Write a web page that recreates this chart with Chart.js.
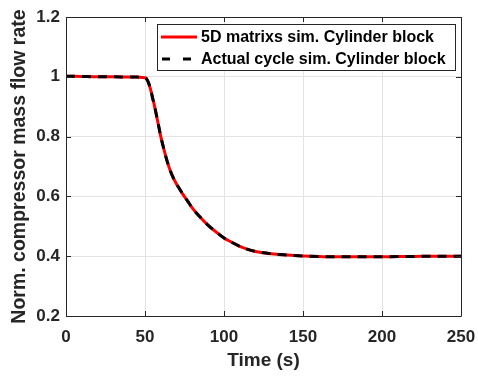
<!DOCTYPE html>
<html>
<head>
<meta charset="utf-8">
<script src="https://cdn.jsdelivr.net/npm/chart.js@4/dist/chart.umd.min.js"></script>
<style>
  html, body { margin: 0; padding: 0; background: #fff; }
  #wrap { width: 478px; height: 376px; }
</style>
</head>
<body>
<div id="wrap"><canvas id="chart" width="478" height="376"></canvas></div>
<script>
// time axis (s)
const timeS = [0, 10, 20, 30, 40, 45, 48, 50, 51, 52, 53, 54, 55, 56, 57, 58, 59, 60,
  62, 64, 66, 68, 70, 72, 74, 77, 80, 85, 90, 95, 100, 104, 110, 115, 120, 130,
  140, 150, 160, 170, 180, 190, 200, 210, 220, 230, 240, 250];

// 5D matrixs sim. - normalised compressor mass flow
const matrixSim = [1.002, 1.001, 1.0, 1.0, 0.999, 0.999, 0.998, 0.997, 0.993, 0.983, 0.968, 0.948,
  0.925, 0.903, 0.878, 0.852, 0.826, 0.800, 0.757, 0.718, 0.686, 0.661, 0.641, 0.624, 0.607,
  0.584, 0.561, 0.530, 0.503, 0.481, 0.461, 0.449, 0.433, 0.423, 0.416, 0.408, 0.404, 0.401,
  0.399, 0.398, 0.398, 0.398, 0.398, 0.399, 0.399, 0.400, 0.400, 0.400];

// Actual cycle sim. - practically on top of the matrix one
const actualSim = [1.002, 1.001, 1.0, 1.0, 0.999, 0.999, 0.998, 0.997, 0.993, 0.983, 0.968, 0.948,
  0.925, 0.903, 0.878, 0.852, 0.826, 0.800, 0.757, 0.718, 0.686, 0.661, 0.641, 0.624, 0.607,
  0.584, 0.561, 0.530, 0.503, 0.481, 0.461, 0.449, 0.433, 0.423, 0.416, 0.408, 0.404, 0.401,
  0.399, 0.398, 0.398, 0.398, 0.398, 0.399, 0.399, 0.400, 0.400, 0.400];

const xTicks = [0, 50, 100, 150, 200, 250];
const yTicks = [0.2, 0.4, 0.6, 0.8, 1.0, 1.2];
const yTickLabels = ["0.2", "0.4", "0.6", "0.8", "1", "1.2"];

const seriesNames = ["5D matrixs sim. Cylinder block", "Actual cycle sim. Cylinder block"];

const FONT = "'Liberation Sans', Arial, sans-serif";
const INK = "#262626";

// box, inward ticks and the framed legend (MATLAB look)
const matlabFrame = {
  id: "matlabFrame",
  afterDraw(chart) {
    const ctx = chart.ctx;
    const a = chart.chartArea;
    const xs = chart.scales.x, ys = chart.scales.y;
    ctx.save();
    ctx.strokeStyle = INK;
    ctx.lineWidth = 1;
    ctx.beginPath();
    ctx.rect(Math.round(a.left) + 0.5, Math.round(a.top) + 0.5,
      Math.round(a.right - a.left), Math.round(a.bottom - a.top));
    ctx.stroke();
    ctx.beginPath();
    xTicks.forEach(v => {
      const px = Math.round(xs.getPixelForValue(v)) + 0.5;
      ctx.moveTo(px, a.bottom); ctx.lineTo(px, a.bottom - 5);
      ctx.moveTo(px, a.top); ctx.lineTo(px, a.top + 5);
    });
    yTicks.forEach(v => {
      const py = Math.round(ys.getPixelForValue(v)) + 0.5;
      ctx.moveTo(a.left, py); ctx.lineTo(a.left + 5, py);
      ctx.moveTo(a.right, py); ctx.lineTo(a.right - 5, py);
    });
    ctx.stroke();

    // legend
    const lx = 157, ly = 24, lw = 298, lh = 46;
    ctx.fillStyle = "#fff";
    ctx.fillRect(lx, ly, lw, lh);
    ctx.strokeStyle = INK;
    ctx.strokeRect(lx + 0.5, ly + 0.5, lw, lh);
    ctx.font = "bold 16px " + FONT;
    ctx.fillStyle = "#000";
    ctx.textBaseline = "middle";
    const rows = [ly + 13, ly + 35];
    ctx.lineWidth = 3;
    ctx.strokeStyle = "#ff0000";
    ctx.setLineDash([]);
    ctx.beginPath(); ctx.moveTo(161, rows[0]); ctx.lineTo(197, rows[0]); ctx.stroke();
    ctx.strokeStyle = "#000";
    ctx.setLineDash([8, 13]);
    ctx.beginPath(); ctx.moveTo(162, rows[1]); ctx.lineTo(197, rows[1]); ctx.stroke();
    ctx.setLineDash([]);
    ctx.fillText(seriesNames[0], 201, rows[0] + 1);
    ctx.fillText(seriesNames[1], 201, rows[1] + 1);
    ctx.restore();
  }
};

const ctx = document.getElementById("chart").getContext("2d");
new Chart(ctx, {
  type: "line",
  data: {
    datasets: [
      {
        label: seriesNames[0],
        data: timeS.map((t, i) => ({ x: t, y: matrixSim[i] })),
        borderColor: "#ff0000",
        borderWidth: 3,
        pointRadius: 0,
        cubicInterpolationMode: "monotone",
        order: 2
      },
      {
        label: seriesNames[1],
        data: timeS.map((t, i) => ({ x: t, y: actualSim[i] })),
        borderColor: "#000000",
        borderWidth: 3,
        borderDash: [9, 7],
        pointRadius: 0,
        cubicInterpolationMode: "monotone",
        order: 1
      }
    ]
  },
  options: {
    responsive: false,
    animation: false,
    layout: { padding: { left: 0, top: 17, right: 17, bottom: 0 } },
    plugins: {
      legend: { display: false },
      tooltip: { enabled: false }
    },
    scales: {
      x: {
        type: "linear",
        min: 0,
        max: 250,
        afterBuildTicks: s => { s.ticks = xTicks.map(v => ({ value: v })); },
        afterFit: s => { s.height = 60; s.paddingLeft = 0; s.paddingRight = 0; },
        grid: { color: "#e3e3e3", drawTicks: false },
        border: { display: false },
        ticks: {
          color: INK,
          padding: 11,
          maxRotation: 0,
          font: { family: FONT, size: 17, weight: "bold" }
        },
        title: {
          display: true,
          text: "Time (s)",
          color: INK,
          padding: { top: 0, bottom: 4 },
          font: { family: FONT, size: 19, weight: "bold" }
        }
      },
      y: {
        min: 0.2,
        max: 1.2,
        afterBuildTicks: s => { s.ticks = yTicks.map(v => ({ value: v })); },
        afterFit: s => { s.width = 66; s.paddingTop = 0; s.paddingBottom = 0; },
        grid: { color: "#e3e3e3", drawTicks: false },
        border: { display: false },
        ticks: {
          color: INK,
          padding: 6,
          callback: (v, i) => yTickLabels[i],
          font: { family: FONT, size: 17, weight: "bold" }
        },
        title: {
          display: true,
          text: "Norm. compressor mass flow rate",
          color: INK,
          padding: { top: 8, bottom: 0 },
          font: { family: FONT, size: 19.5, weight: "bold" }
        }
      }
    }
  },
  plugins: [matlabFrame]
});
</script>
</body>
</html>
